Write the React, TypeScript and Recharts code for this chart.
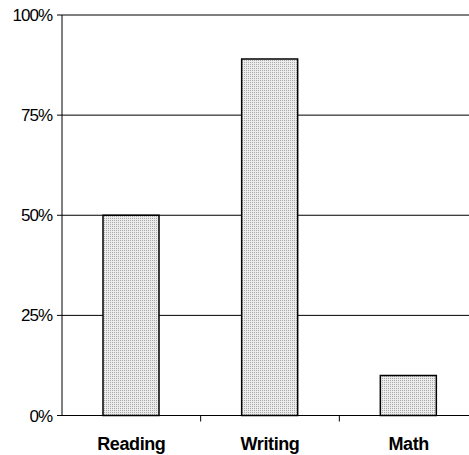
import React from "react";
import { BarChart, Bar, XAxis, YAxis, CartesianGrid } from "recharts";

const categories = ["Reading", "Writing", "Math"];
const values = [50, 89, 10];
const yTicks = [0, 25, 50, 75, 100];

const data = categories.map((c, i) => ({ name: c, value: values[i] }));

const CatTick = (props: any) => {
  const { x, y, payload, index } = props;
  const off = payload && typeof payload.offset === "number" ? payload.offset : 0;
  return (
    <g>
      {index < categories.length - 1 && off > 0 ? (
        <line x1={x + off} x2={x + off} y1={y - 6} y2={y} stroke="#000" strokeWidth={1} />
      ) : null}
      <text
        x={x}
        y={y + 28}
        textAnchor="middle"
        fontFamily="'Liberation Sans', Arial, sans-serif"
        fontWeight="bold"
        fontSize={18}
        letterSpacing={-0.4}
        fill="#000"
      >
        {payload.value}
      </text>
    </g>
  );
};

export default function App() {
  return (
    <div
      style={{
        position: "absolute",
        left: 0,
        top: 0,
        width: 469,
        height: 455,
        overflow: "hidden",
        background: "#fff",
      }}
    >
      <BarChart
        width={478}
        height={455}
        data={data}
        margin={{ top: 15, right: 0, bottom: 0, left: 0 }}
        barSize={56}
      >
        <defs>
          <pattern id="dots" width="2" height="2" patternUnits="userSpaceOnUse">
            <rect x="0" y="0" width="2" height="2" fill="#ececec" />
            <rect x="0" y="0" width="1" height="1" fill="#a8a8a8" />
          </pattern>
        </defs>
        <CartesianGrid vertical={false} stroke="#000" strokeWidth={1} />
        <XAxis
          dataKey="name"
          axisLine={{ stroke: "#000" }}
          tickLine={false}
          tickSize={0}
          tickMargin={6}
          height={39.5}
          interval={0}
          tick={<CatTick />}
        />
        <YAxis
          domain={[0, 100]}
          ticks={yTicks}
          width={62}
          axisLine={{ stroke: "#000" }}
          tickLine={{ stroke: "#000" }}
          tickSize={5}
          tickMargin={5}
          tickFormatter={(v: number) => `${v}%`}
          tick={{
            fill: "#000",
            fontSize: 17,
            fontFamily: "'Liberation Sans', Arial, sans-serif",
            letterSpacing: -1,
          }}
          interval={0}
        />
        <Bar
          dataKey="value"
          fill="url(#dots)"
          stroke="#000"
          strokeWidth={1.5}
          isAnimationActive={false}
        />
      </BarChart>
    </div>
  );
}
